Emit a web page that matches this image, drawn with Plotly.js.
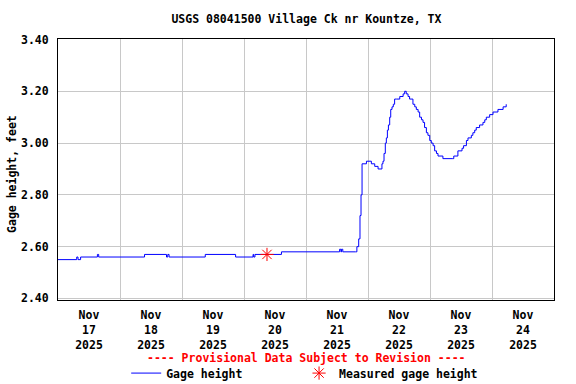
<!DOCTYPE html>
<html>
<head>
<meta charset="utf-8">
<script src="https://cdn.plot.ly/plotly-3.0.1.min.js"></script>
<style>html,body{margin:0;padding:0;background:#fff}#chart{width:576px;height:384px}</style>
</head>
<body>
<div id="chart"></div>
<script>
// Gage height series (time, feet)
var gageTimes = [
  '2025-11-17 00:00','2025-11-17 07:15','2025-11-17 07:45','2025-11-17 08:45','2025-11-17 15:15','2025-11-17 15:45',
  '2025-11-18 09:30','2025-11-18 18:00','2025-11-18 18:30','2025-11-18 19:00',
  '2025-11-19 09:00','2025-11-19 20:45',
  '2025-11-20 03:30','2025-11-20 03:45','2025-11-20 04:15','2025-11-20 14:30',
  '2025-11-21 13:00','2025-11-21 13:30','2025-11-21 13:45','2025-11-21 14:15','2025-11-21 19:12',
  '2025-11-21 19:42','2025-11-21 20:24','2025-11-21 20:54','2025-11-21 21:18','2025-11-21 21:42','2025-11-21 23:24',
  '2025-11-22 01:18','2025-11-22 02:36','2025-11-22 03:54','2025-11-22 05:24','2025-11-22 05:48','2025-11-22 06:12',
  '2025-11-22 06:42','2025-11-22 07:06','2025-11-22 07:30','2025-11-22 07:54','2025-11-22 08:24','2025-11-22 08:48',
  '2025-11-22 09:18','2025-11-22 09:48','2025-11-22 10:18','2025-11-22 11:00','2025-11-22 12:18','2025-11-22 13:36',
  '2025-11-22 14:12','2025-11-22 14:48','2025-11-22 15:30','2025-11-22 16:06','2025-11-22 17:24','2025-11-22 18:06',
  '2025-11-22 18:42','2025-11-22 19:24','2025-11-22 20:00','2025-11-22 20:42','2025-11-22 21:18','2025-11-22 21:54',
  '2025-11-22 22:36','2025-11-22 23:12','2025-11-22 23:54',
  '2025-11-23 00:30','2025-11-23 01:12','2025-11-23 01:48','2025-11-23 02:30','2025-11-23 03:06','2025-11-23 05:00',
  '2025-11-23 08:36','2025-11-23 09:12','2025-11-23 10:48','2025-11-23 12:24','2025-11-23 13:00','2025-11-23 14:06',
  '2025-11-23 14:42','2025-11-23 16:00','2025-11-23 16:36','2025-11-23 17:18','2025-11-23 17:54','2025-11-23 19:12',
  '2025-11-23 20:30','2025-11-23 21:12','2025-11-23 21:48','2025-11-23 23:06',
  '2025-11-24 00:24','2025-11-24 02:18','2025-11-24 04:18','2025-11-24 05:30'
];
var gageHeights = [
  2.55,2.56,2.55,2.56,2.57,2.56,
  2.57,2.56,2.57,2.56,
  2.57,2.56,
  2.57,2.56,2.57,2.58,
  2.59,2.58,2.59,2.58,2.58,
  2.60,2.63,2.72,2.80,2.92,2.93,
  2.92,2.91,2.90,2.92,2.93,2.96,
  3.00,3.02,3.05,3.07,3.10,3.13,
  3.14,3.15,3.17,3.17,3.18,3.19,
  3.20,3.19,3.18,3.17,3.15,3.14,
  3.13,3.12,3.10,3.09,3.08,3.06,
  3.04,3.03,3.01,
  3.00,2.99,2.97,2.96,2.95,2.94,
  2.94,2.95,2.97,2.98,2.99,3.01,
  3.02,3.03,3.04,3.05,3.06,3.07,
  3.08,3.09,3.10,3.11,
  3.12,3.13,3.14,3.15
];
// Measured gage height
var measuredTimes = ['2025-11-20 08:54'];
var measuredHeights = [2.57];
// Axis ticks
var xTickVals = ['2025-11-17 12:00','2025-11-18 12:00','2025-11-19 12:00','2025-11-20 12:00','2025-11-21 12:00','2025-11-22 12:00','2025-11-23 12:00','2025-11-24 12:00'];
var xTickText = ['Nov<br>17<br>2025','Nov<br>18<br>2025','Nov<br>19<br>2025','Nov<br>20<br>2025','Nov<br>21<br>2025','Nov<br>22<br>2025','Nov<br>23<br>2025','Nov<br>24<br>2025'];
var yTickVals = [2.40, 2.60, 2.80, 3.00, 3.20, 3.40];
var yTickText = ['2.40','2.60','2.80','3.00','3.20','3.40'];

var FONT = 'DejaVu Sans Mono, monospace';
var fontBase = {family: FONT, size: 11.5, color: '#000', weight: 700};

var traces = [
  {x: gageTimes, y: gageHeights, type: 'scatter', mode: 'lines', name: 'Gage height', legend: 'legend',
   line: {color: '#0000ff', width: 1, shape: 'hv'}, hoverinfo: 'x+y'},
  {x: measuredTimes, y: measuredHeights, type: 'scatter', mode: 'markers', name: 'Measured gage height', legend: 'legend2',
   marker: {symbol: 'asterisk-open', size: 11, color: '#ff0000', line: {color: '#ff0000', width: 1}}}
];

var legendBase = {orientation: 'h', xanchor: 'left', y: -0.28, yanchor: 'middle',
  font: fontBase, bgcolor: 'rgba(0,0,0,0)', borderwidth: 0};

var layout = {
  width: 576, height: 384,
  margin: {l: 58, r: 22, t: 39, b: 84, pad: 0, autoexpand: false},
  paper_bgcolor: '#ffffff', plot_bgcolor: '#ffffff',
  font: fontBase,
  title: {text: 'USGS 08041500 Village Ck nr Kountze, TX', font: fontBase, x: 0.532, xanchor: 'center', y: 0.95, yanchor: 'middle'},
  xaxis: {
    type: 'date', range: ['2025-11-17 00:00', '2025-11-25 00:00'],
    tickmode: 'array', tickvals: xTickVals, ticktext: xTickText,
    showgrid: false, ticks: '', tickfont: fontBase,
    minor: {tickmode: 'linear', tick0: '2025-11-17', dtick: 86400000, showgrid: true, gridcolor: '#c8c8c8', gridwidth: 1, ticks: ''},
    showline: true, linecolor: '#000', linewidth: 1, mirror: true, zeroline: false,
    ticklabelstandoff: 4, automargin: false
  },
  yaxis: {
    range: [2.394, 3.402],
    tickmode: 'array', tickvals: yTickVals, ticktext: yTickText,
    showgrid: true, gridcolor: '#c8c8c8', gridwidth: 1, ticks: '', tickfont: fontBase,
    showline: true, linecolor: '#000', linewidth: 1, mirror: true, zeroline: false,
    ticklabelstandoff: 6, automargin: false
  },
  showlegend: true,
  legend: Object.assign({}, legendBase, {x: 0.1375}),
  legend2: Object.assign({}, legendBase, {x: 0.486}),
  annotations: [
    {text: 'Gage height, feet', xref: 'paper', yref: 'paper', x: -0.0927, y: 0.483, textangle: -90,
     xanchor: 'center', yanchor: 'middle', showarrow: false, font: fontBase},
    {text: '---- Provisional Data Subject to Revision ----', xref: 'paper', yref: 'paper', x: 0.5, y: -0.222,
     xanchor: 'center', yanchor: 'middle', showarrow: false, font: {family: FONT, size: 11.5, color: '#ff0000', weight: 700}}
  ]
};

Plotly.newPlot('chart', traces, layout, {staticPlot: true, displayModeBar: false});
</script>
</body>
</html>
